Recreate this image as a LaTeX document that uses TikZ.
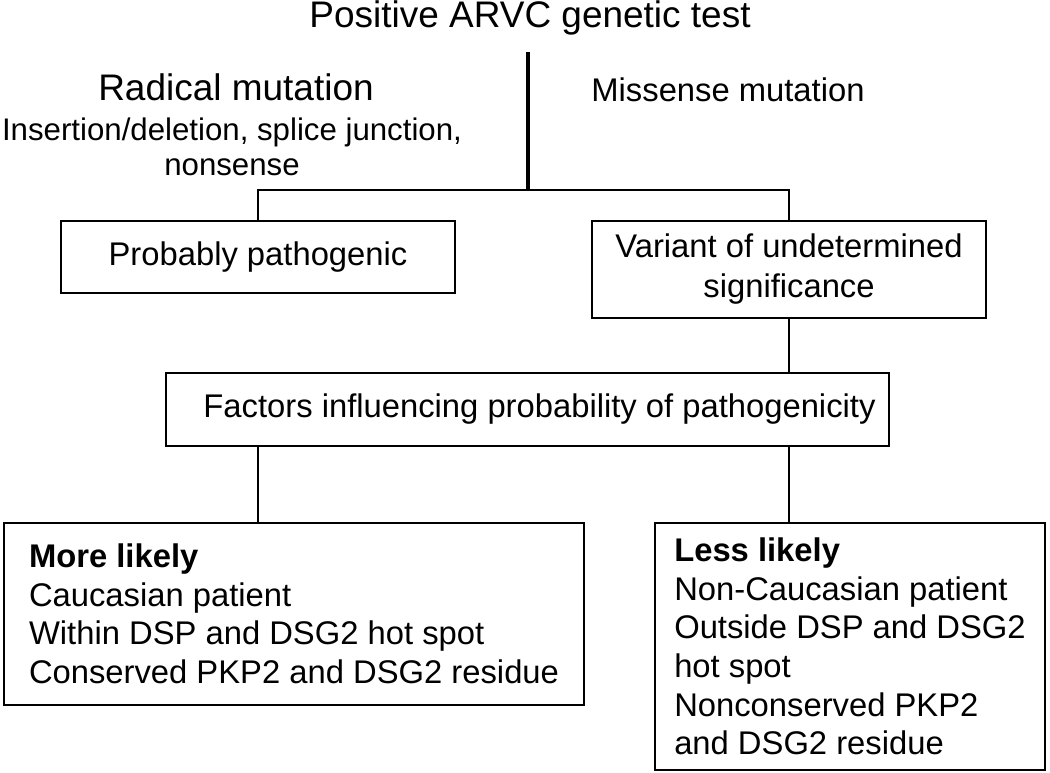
\documentclass[tikz,border=0pt]{standalone}
\usepackage{fontspec}
\setmainfont{Liberation Sans}
\newcommand\pxu{0.025cm}
\begin{document}
\begin{tikzpicture}[x=0.025cm,y=-0.025cm,line width=2.1pt,
    box/.style={draw,rectangle,inner sep=0pt,align=center,
      font=\fontsize{23.3}{28.45}\selectfont},
    listbox/.style={box,align=left,font=\fontsize{23.3}{27.4}\selectfont},
    free/.style={inner sep=0pt,align=center},
    big/.style={font=\fontsize{26.3}{31}\selectfont}]
  \useasboundingbox (0,0) rectangle (1050,773);
  \draw
    (530,28) node[free,big,anchor=base] (title){Positive ARVC genetic test}
    (236,101) node[free,big,anchor=base] (radical){Radical mutation}
    (232,147) node[free,font=\fontsize{22.2}{24.9}\selectfont] (kinds){Insertion/deletion, splice junction,\\nonsense}
    (728,102) node[free,anchor=base,font=\fontsize{23.3}{28.45}\selectfont] (missense){Missense mutation};
  \draw
    (258,257) node[box,minimum width=394*\pxu,minimum height=72*\pxu] (prob){Probably pathogenic}
    (789,269.5) node[box,minimum width=394*\pxu,minimum height=97*\pxu] (vus){Variant of undetermined\\significance}
    (527.5,409.5) node[box,minimum width=723*\pxu,minimum height=73*\pxu] (factors){\hspace*{0.6cm}Factors influencing probability of pathogenicity}
    (294,614) node[listbox,minimum width=580*\pxu,minimum height=182*\pxu] (more){\textbf{More likely}\\Caucasian patient\\Within DSP and DSG2 hot spot\\Conserved PKP2 and DSG2 residue}
    (850,646.5) node[listbox,minimum width=390*\pxu,minimum height=247*\pxu] (less){\textbf{Less likely}\\Non-Caucasian patient\\Outside DSP and DSG2\\hot spot\\Nonconserved PKP2\\and DSG2 residue};
  \coordinate (top) at (528,52);
  \coordinate (split) at (528,190);
  % tree lines
  \draw[line width=2.8pt] (top) -- (split);
  \draw (prob.north) -- (prob.north |- split) -- (vus.north |- split) -- (vus.north);
  \draw (vus.south) -- (vus.south |- factors.north);
  \draw (factors.south -| prob.north) -- (more.north -| prob.north);
  \draw (factors.south -| vus.south) -- (less.north -| vus.south);
\end{tikzpicture}
\end{document}
